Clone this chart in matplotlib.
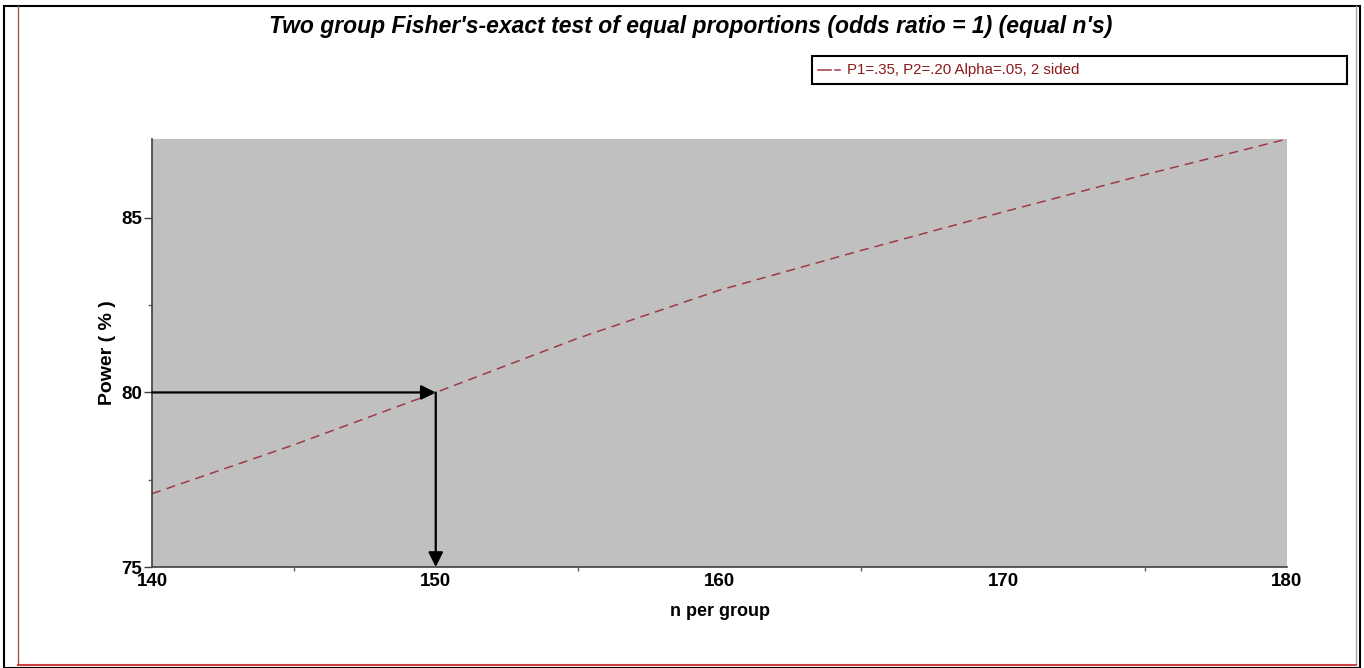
# Fisher's exact test power curve

import numpy as np
import matplotlib.pyplot as plt
from matplotlib.patches import Rectangle


# data

n_per_group = [140, 145, 150, 155, 160, 165, 170, 175, 180]
power_pct = [77.1, 78.5, 80.0, 81.55, 82.93, 84.07, 85.17, 86.24, 87.26]

target_n = 150
target_power = 80

x_ticks = [140, 150, 160, 170, 180]
y_ticks = [75, 80, 85]

series_label = "P1=.35, P2=.20 Alpha=.05, 2 sided"
title = "Two group Fisher's-exact test of equal proportions (odds ratio = 1) (equal n's)"

plt.rcParams['font.family'] = ['Liberation Sans', 'DejaVu Sans']

fig = plt.figure(figsize = (13.64, 6.68), dpi = 100)
ax = fig.add_axes([152 / 1364, 1 - 567 / 668, (1287 - 152) / 1364, (567 - 139) / 668])

line_color = '#9e3a44'

ax.set_facecolor('#c0c0c0')
ax.plot(n_per_group, power_pct, color = line_color, linestyle = (0, (6, 4)), linewidth = 1.1)

# arrows pointing from the target power to the required n
arrow_style = dict(arrowstyle = '-|>', color = 'black', linewidth = 1.6, mutation_scale = 22, shrinkA = 0, shrinkB = 0)
ax.annotate('', xy = (target_n, target_power), xytext = (n_per_group[0], target_power), arrowprops = arrow_style)
ax.annotate('', xy = (target_n, y_ticks[0]), xytext = (target_n, target_power), arrowprops = arrow_style)

ax.set_xlim(n_per_group[0], n_per_group[-1])
ax.set_ylim(y_ticks[0], power_pct[-1])
ax.set_xticks(x_ticks)
ax.set_yticks(y_ticks)
ax.set_xticks([145, 155, 165, 175], minor = True)
ax.set_yticks([77.5, 82.5], minor = True)

for s in ['top', 'right']:
    ax.spines[s].set_visible(False)
for s in ['left', 'bottom']:
    ax.spines[s].set_color('#404040')
    ax.spines[s].set_linewidth(1.2)

ax.tick_params(axis = 'both', which = 'major', length = 6, width = 1, color = '#404040', labelsize = 13.5, pad = 1)
ax.tick_params(axis = 'both', which = 'minor', length = 3, width = 1, color = '#606060')
ax.tick_params(axis = 'x', which = 'major', length = 0, pad = 4)
for lab in ax.get_xticklabels() + ax.get_yticklabels():
    lab.set_fontweight('bold')

ax.set_xlabel('n per group', fontsize = 13, fontweight = 'bold', labelpad = 10)
ax.set_ylabel('Power ( % )', fontsize = 14, fontweight = 'bold', labelpad = 4)

fig.text(691 / 1364, 1 - 27 / 668, title, ha = 'center', va = 'center', fontsize = 16.5, fontweight = 'bold', style = 'italic')

# legend box
fig.patches.append(Rectangle((812 / 1364, 1 - 84 / 668), (1347 - 812) / 1364, 28 / 668, transform = fig.transFigure,
                             facecolor = 'white', edgecolor = 'black', linewidth = 1.5))
for x0, x1 in [(818, 831), (835, 840)]:
    fig.lines.append(plt.Line2D([x0 / 1364, x1 / 1364], [1 - 70 / 668] * 2, transform = fig.transFigure,
                                color = line_color, linewidth = 1.1))
fig.text(847 / 1364, 1 - 70 / 668, series_label, ha = 'left', va = 'center', fontsize = 10.8, color = '#8b1a1a')

# outer frame
fig.patches.append(Rectangle((4 / 1364, 0), 1356 / 1364, 1 - 6 / 668, transform = fig.transFigure,
                             facecolor = 'none', edgecolor = 'black', linewidth = 1.5))
fig.lines.append(plt.Line2D([18 / 1364, 18 / 1364], [4 / 668, 1 - 6 / 668], transform = fig.transFigure, color = '#9a5a50', linewidth = 1))
fig.lines.append(plt.Line2D([1356 / 1364, 1356 / 1364], [4 / 668, 1 - 6 / 668], transform = fig.transFigure, color = '#b0a0a0', linewidth = 1))
fig.lines.append(plt.Line2D([18 / 1364, 1356 / 1364], [3 / 668, 3 / 668], transform = fig.transFigure, color = '#d04040', linewidth = 1.5))

fig.savefig('out.png', dpi = 100)
